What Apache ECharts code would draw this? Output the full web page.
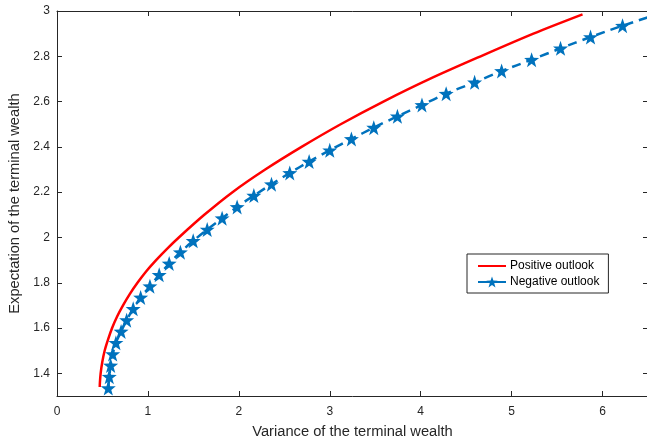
<!DOCTYPE html>
<html>
<head>
<meta charset="utf-8">
<script src="https://cdn.jsdelivr.net/npm/echarts@6/dist/echarts.min.js"></script>
<style>
  html, body { margin: 0; padding: 0; background: #fff; }
  #chart { width: 647px; height: 443px; }
</style>
</head>
<body>
<div id="chart"></div>
<script>
// red curve: [variance, expectation]
var positiveVar = [0.470, 0.472, 0.480, 0.498, 0.524, 0.562, 0.606, 0.660, 0.726, 0.800, 0.885, 0.980, 1.09, 1.21, 1.34, 1.62, 1.93, 2.29, 2.69, 3.12, 3.59, 4.10, 4.66, 5.24, 5.78];
var positiveExp = [1.34, 1.36, 1.40, 1.45, 1.50, 1.55, 1.60, 1.65, 1.70, 1.75, 1.80, 1.85, 1.90, 1.95, 2.00, 2.10, 2.20, 2.30, 2.40, 2.50, 2.60, 2.70, 2.80, 2.90, 2.985];

// blue stars
var negativeVar = [0.564, 0.575, 0.59, 0.612, 0.648, 0.705, 0.766, 0.838, 0.92, 1.022, 1.124, 1.234, 1.357, 1.498,
  1.652, 1.816, 1.981, 2.165, 2.359, 2.56, 2.773, 3.0, 3.238, 3.484, 3.744, 4.014, 4.28, 4.593, 4.89, 5.22, 5.538, 5.868, 6.22];
var negativeExp = [1.335, 1.385, 1.435, 1.485, 1.535, 1.585, 1.635, 1.685, 1.735, 1.785, 1.835, 1.885, 1.935, 1.985,
  2.035, 2.085, 2.135, 2.185, 2.235, 2.285, 2.335, 2.385, 2.435, 2.485, 2.535, 2.585, 2.635, 2.685, 2.735, 2.785, 2.835, 2.885, 2.935];
// dashed line runs on past the last star to the right edge
var negativeTail = [6.6, 2.985];

var xTicks = [0, 1, 2, 3, 4, 5, 6];
var yTicks = [1.4, 1.6, 1.8, 2.0, 2.2, 2.4, 2.6, 2.8, 3.0];

var seriesNames = ['Positive outlook', 'Negative outlook'];

var STAR = 'path://M0,-10 L2.35,-3.24 L9.51,-3.09 L3.8,1.24 L5.88,8.09 L0,4 L-5.88,8.09 L-3.8,1.24 L-9.51,-3.09 L-2.35,-3.24 Z';
var AXIS_COLOR = '#262626';
var FONT = 'Liberation Sans';

var chart = echarts.init(document.getElementById('chart'));

var positiveData = positiveVar.map(function (v, i) { return [v, positiveExp[i]]; });
var negativeData = negativeVar.map(function (v, i) { return [v, negativeExp[i]]; });
negativeData.push({ value: negativeTail, symbol: 'none' });

function baseAxis(extra) {
  var ax = {
    type: 'value',
    axisLine: { show: true, onZero: false, lineStyle: { color: AXIS_COLOR, width: 1 } },
    splitLine: { show: false },
    axisLabel: { show: false }
  };
  return Object.assign(ax, extra);
}

function ticks(values) {
  return { show: true, inside: true, length: 5, customValues: values, lineStyle: { color: AXIS_COLOR } };
}

var option = {
  backgroundColor: '#fff',
  animation: false,
  textStyle: { fontFamily: FONT },
  grid: { left: 57, top: 11, width: 591, height: 385, containLabel: false, outerBoundsMode: 'none' },
  legend: {
    orient: 'vertical',
    left: 467,
    top: 254,
    padding: [6, 9, 5, 10],
    itemGap: 4,
    itemWidth: 28,
    itemHeight: 14,
    borderColor: AXIS_COLOR,
    borderWidth: 1,
    borderRadius: 0,
    backgroundColor: '#fff',
    textStyle: { fontFamily: FONT, fontSize: 12, color: '#000', padding: [0, 0, 0, -1] },
    data: [
      { name: seriesNames[0] },
      { name: seriesNames[1], lineStyle: { type: 'solid' } }
    ]
  },
  xAxis: [
    baseAxis({
      min: 0,
      max: 6.5,
      name: 'Variance of the terminal wealth',
      nameLocation: 'middle',
      nameGap: 28,
      nameTextStyle: { fontFamily: FONT, fontSize: 14.7, color: AXIS_COLOR },
      axisTick: ticks(xTicks),
      axisLabel: { show: true, customValues: xTicks, margin: 10, fontFamily: FONT, fontSize: 12, color: AXIS_COLOR }
    }),
    baseAxis({ min: 0, max: 6.5, position: 'top', axisTick: ticks(xTicks) })
  ],
  yAxis: [
    baseAxis({
      min: 1.3,
      max: 3,
      name: 'Expectation of the terminal wealth',
      nameLocation: 'middle',
      nameGap: 34,
      nameTextStyle: { fontFamily: FONT, fontSize: 14.7, color: AXIS_COLOR },
      axisTick: ticks(yTicks),
      axisLabel: { show: true, customValues: yTicks, margin: 7, fontFamily: FONT, fontSize: 12, color: AXIS_COLOR }
    }),
    baseAxis({ min: 1.3, max: 3, position: 'right', axisTick: ticks(yTicks) })
  ],
  series: [
    {
      name: seriesNames[0],
      type: 'line',
      smooth: 0.3,
      showSymbol: false,
      symbol: 'circle',
      color: '#ff0000',
      itemStyle: { color: 'rgba(0,0,0,0)' },
      lineStyle: { color: '#ff0000', width: 2.5 },
      data: positiveData
    },
    {
      name: seriesNames[1],
      type: 'line',
      smooth: 0.3,
      symbol: STAR,
      symbolSize: 15,
      color: '#0072bd',
      itemStyle: { color: '#0072bd' },
      lineStyle: { color: '#0072bd', width: 2.5, type: [9, 6] },
      data: negativeData
    }
  ]
};

option && chart.setOption(option);
</script>
</body>
</html>
